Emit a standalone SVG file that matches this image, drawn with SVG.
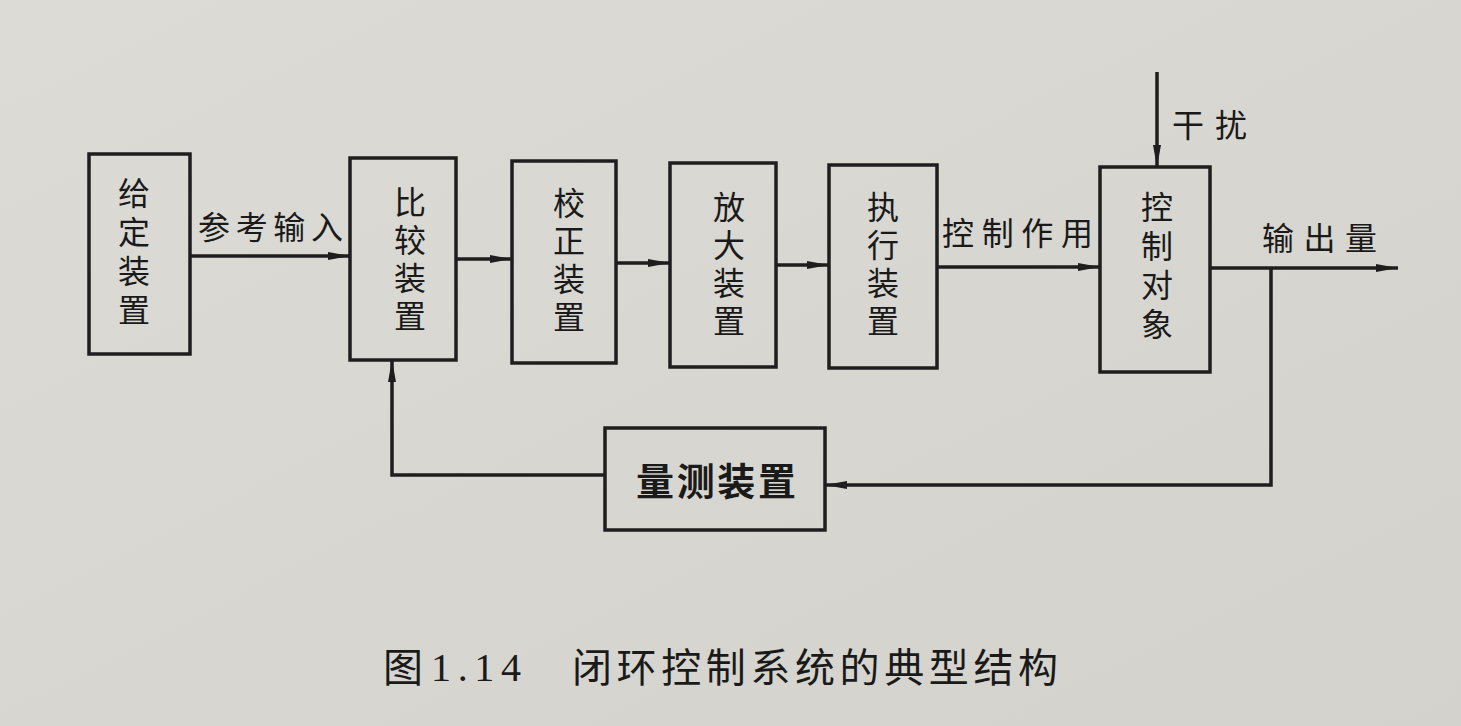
<svg xmlns="http://www.w3.org/2000/svg" width="1461" height="726" viewBox="0 0 1461 726">
  <defs>
    <marker id="arrow" markerUnits="userSpaceOnUse" markerWidth="24" markerHeight="10" refX="22" refY="5" orient="auto">
      <path d="M0,1 L22,5 L0,9 Z" fill="#1e1e1e"/>
    </marker>
    <linearGradient id="paper" x1="0" y1="0" x2="1" y2="1">
      <stop offset="0" stop-color="#dcdbd6"/>
      <stop offset="1" stop-color="#d3d2cc"/>
    </linearGradient>
  </defs>
  <style>
    .box { fill: none; stroke: #1e1e1e; stroke-width: 3.5; }
    .wire { fill: none; stroke: #1e1e1e; stroke-width: 3.5; stroke-linejoin: miter; }
    .lbl { font-family: "Noto Sans CJK SC", "Noto Sans", sans-serif; font-size: 32px; fill: #1a1a1a; dominant-baseline: central; }
    .vt { font-family: "Noto Sans CJK SC", "Noto Sans", sans-serif; font-size: 32px; fill: #1a1a1a; writing-mode: vertical-rl; letter-spacing: 6px; }
    .cap { font-family: "Noto Sans CJK SC", serif; font-size: 40px; fill: #1a1a1a; dominant-baseline: central; }
    .num { font-family: "Liberation Serif", serif; font-size: 40px; fill: #1a1a1a; dominant-baseline: central; }
  </style>

  <rect x="0" y="0" width="1461" height="726" fill="url(#paper)"/>

  <!-- connectors -->
  <g id="connectors">
    <path class="wire" d="M190,256 H350" marker-end="url(#arrow)"/>
    <path class="wire" d="M456,259 H512" marker-end="url(#arrow)"/>
    <path class="wire" d="M616,263 H670" marker-end="url(#arrow)"/>
    <path class="wire" d="M776,265 H829" marker-end="url(#arrow)"/>
    <path class="wire" d="M937,267 H1100" marker-end="url(#arrow)"/>
    <path class="wire" d="M1157,72 V167" marker-end="url(#arrow)"/>
    <path class="wire" d="M1210,268 H1398" marker-end="url(#arrow)"/>
    <path class="wire" d="M1271,268 V485 H825" marker-end="url(#arrow)"/>
    <path class="wire" d="M605,475 H392 V360" marker-end="url(#arrow)"/>
  </g>

  <!-- edge labels -->
  <g id="labels">
    <text class="lbl" x="198" y="225" textLength="145" lengthAdjust="spacing">参考输入</text>
    <text class="lbl" x="942" y="231" textLength="151" lengthAdjust="spacing">控制作用</text>
    <text class="lbl" x="1172" y="123" textLength="75" lengthAdjust="spacing">干扰</text>
    <text class="lbl" x="1262" y="236" textLength="115" lengthAdjust="spacing">输出量</text>
  </g>

  <!-- blocks; names are set top-to-bottom -->
  <g id="node-setpoint">
    <rect class="box" x="89" y="154" width="101" height="200"/>
    <text class="vt" x="134" y="177" style="letter-spacing:7px">给定装置</text>
  </g>

  <g id="node-comparator">
    <rect class="box" x="350" y="158" width="106" height="202"/>
    <text class="vt" x="410" y="186">比较装置</text>
  </g>

  <g id="node-corrector">
    <rect class="box" x="512" y="161" width="104" height="202"/>
    <text class="vt" x="569" y="187">校正装置</text>
  </g>

  <g id="node-amplifier">
    <rect class="box" x="670" y="163" width="106" height="204"/>
    <text class="vt" x="729" y="191">放大装置</text>
  </g>

  <g id="node-actuator">
    <rect class="box" x="829" y="165" width="108" height="203"/>
    <text class="vt" x="883" y="191">执行装置</text>
  </g>

  <g id="node-plant">
    <rect class="box" x="1100" y="167" width="110" height="205"/>
    <text class="vt" x="1157" y="191" style="letter-spacing:7px">控制对象</text>
  </g>

  <g id="node-sensor">
    <rect class="box" x="605" y="428" width="220" height="102"/>
    <text class="lbl" x="636" y="478" style="font-size:38px;font-weight:bold" textLength="160" lengthAdjust="spacing">量测装置</text>
  </g>

  <!-- figure caption -->
  <g id="caption">
    <text class="cap" x="383" y="665">图</text>
    <text class="num" x="431" y="667" textLength="90" lengthAdjust="spacing">1.14</text>
    <text class="cap" x="572" y="665" textLength="486" lengthAdjust="spacing">闭环控制系统的典型结构</text>
  </g>
</svg>
